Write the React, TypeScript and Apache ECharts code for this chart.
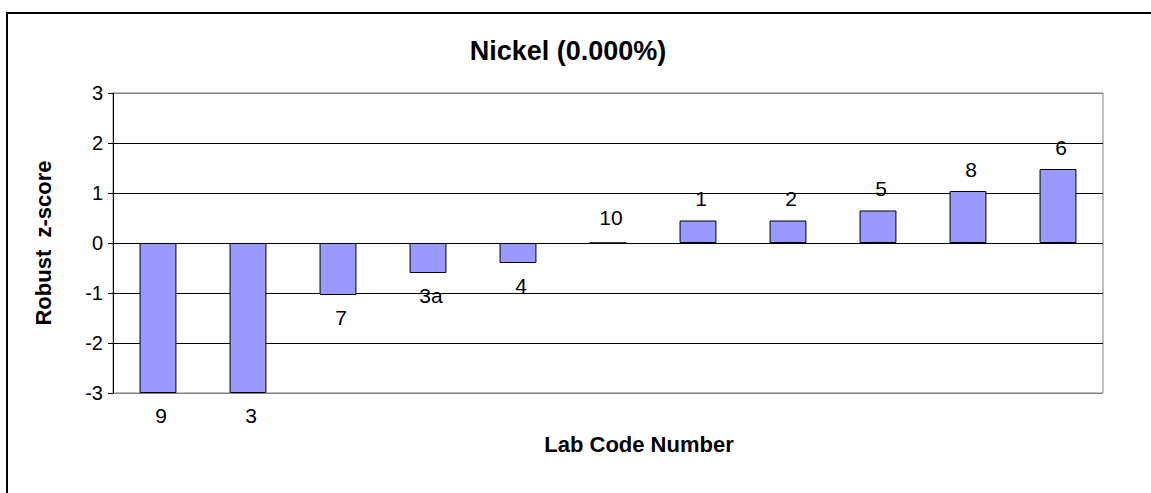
import React, { useEffect, useRef } from "react";
import * as echarts from "echarts";

const labCodes = ["9", "3", "7", "3a", "4", "10", "1", "2", "5", "8", "6"];
const zScores = [-3, -3, -1.04, -0.6, -0.4, 0, 0.45, 0.45, 0.65, 1.04, 1.48];
const yTicks = [-3, -2, -1, 0, 1, 2, 3];
const titleText = "Nickel (0.000%)";
const xName = "Lab Code Number";
const yName = "Robust  z-score";

const FONT = "'Liberation Sans', Arial, sans-serif";

export default function App() {
  const ref = useRef<HTMLDivElement>(null);
  useEffect(() => {
    if (!ref.current) return;
    const chart = echarts.init(ref.current, null, { renderer: "svg" });
    chart.setOption({
      animation: false,
      backgroundColor: "#ffffff",
      grid: {
        left: 113,
        right: 48,
        top: 93,
        bottom: 100,
        show: true,
        borderColor: "#808080",
        borderWidth: 1,
      },
      xAxis: {
        type: "category",
        data: labCodes,
        axisLine: { show: false },
        axisTick: { show: false },
        axisLabel: { show: false },
        splitLine: { show: false },
      },
      yAxis: {
        type: "value",
        min: yTicks[0],
        max: yTicks[yTicks.length - 1],
        interval: 1,
        axisLine: { show: true, lineStyle: { color: "#000", width: 1 } },
        axisTick: { show: true, length: 5, lineStyle: { color: "#000" } },
        axisLabel: { color: "#000", fontSize: 20, fontFamily: FONT, margin: 10 },
        splitLine: {
          show: true,
          lineStyle: {
            color: ["#808080", "#000", "#000", "#000", "#000", "#000", "#808080"],
            width: 1,
          },
        },
      },
      series: [
        {
          type: "bar",
          data: zScores.map((v, i) => ({
            value: v,
            label: {
              show: true,
              position: v < 0 ? "bottom" : "top",
              distance: v === 0 ? 13 : 10,
              formatter: labCodes[i],
              color: "#000",
              fontSize: 21,
              lineHeight: 24,
              fontFamily: FONT,
              offset: [3, 0],
            },
          })),
          barWidth: "41%",
          itemStyle: { color: "#9999FF", borderColor: "#000", borderWidth: 1 },
        },
      ],
      graphic: [
        {
          type: "rect",
          shape: { x: 7, y: 13, width: 1160, height: 500 },
          style: { fill: "none", stroke: "#000", lineWidth: 2 },
          z: 100,
        },
        {
          type: "text",
          x: 568,
          y: 51,
          style: {
            text: titleText,
            font: `bold 27px ${FONT}`,
            fill: "#000",
            align: "center",
            verticalAlign: "middle",
            textAlign: "center",
            textVerticalAlign: "middle",
          },
        },
        {
          type: "text",
          x: 639,
          y: 444,
          style: {
            text: xName,
            font: `bold 22px ${FONT}`,
            fill: "#000",
            align: "center",
            verticalAlign: "middle",
            textAlign: "center",
            textVerticalAlign: "middle",
          },
        },
        {
          type: "text",
          x: 43,
          y: 243,
          rotation: Math.PI / 2,
          style: {
            text: yName,
            font: `bold 22px ${FONT}`,
            fill: "#000",
            align: "center",
            verticalAlign: "middle",
            textAlign: "center",
            textVerticalAlign: "middle",
          },
        },
      ],
    });
    return () => chart.dispose();
  }, []);
  return (
    <div
      ref={ref}
      style={{ position: "absolute", left: 0, top: 0, width: 1151, height: 493 }}
    />
  );
}
